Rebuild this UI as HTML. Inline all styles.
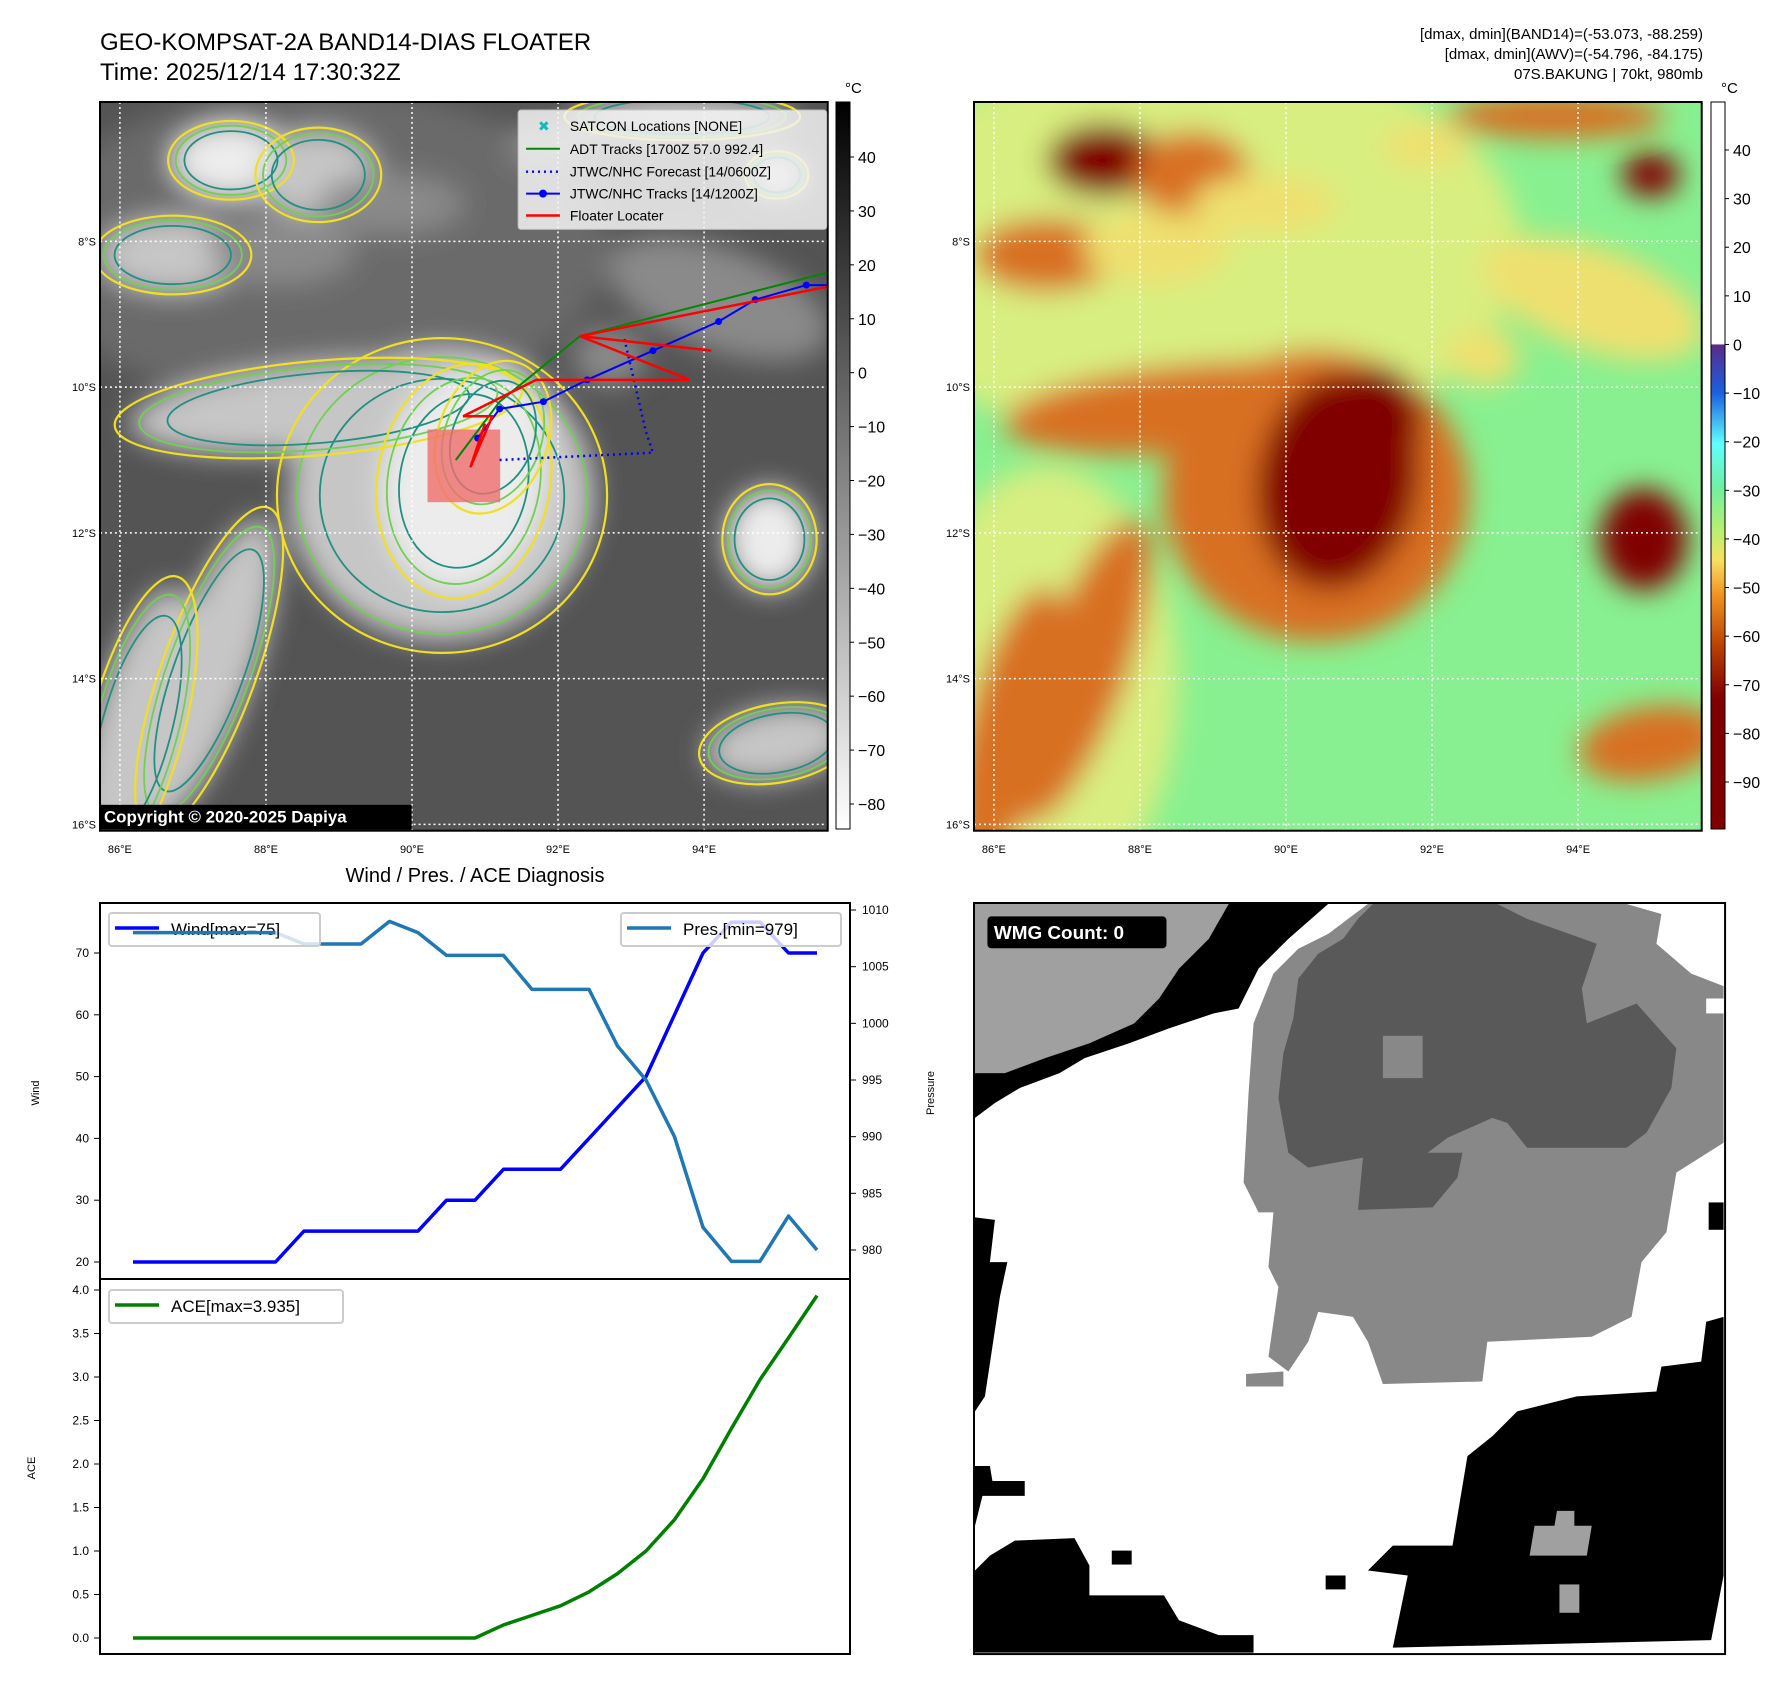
<!DOCTYPE html>
<html><head><meta charset="utf-8"><style>
html,body{margin:0;padding:0;background:#fff;}
svg{display:block;font-family:"Liberation Sans","DejaVu Sans",sans-serif;}
</style></head><body>
<svg id="root" width="1792" height="1690" viewBox="0 0 1792 1690">
<defs>
<filter id="blur" x="-30%" y="-30%" width="160%" height="160%"><feGaussianBlur stdDeviation="14"/></filter>
<clipPath id="clipL"><rect x="0" y="0" width="731" height="732"/></clipPath>
<linearGradient id="cbL" x1="0" y1="0" x2="0" y2="1"><stop offset="0" stop-color="#000"/><stop offset="1" stop-color="#fff"/></linearGradient>
<linearGradient id="cbR" x1="0" y1="0" x2="0" y2="1">
<stop offset="0" stop-color="#fff"/><stop offset="0.333" stop-color="#fff"/>
<stop offset="0.334" stop-color="#5a2a8a"/><stop offset="0.40" stop-color="#1a60e0"/>
<stop offset="0.47" stop-color="#60ffff"/><stop offset="0.53" stop-color="#70f0a0"/>
<stop offset="0.59" stop-color="#b8f070"/><stop offset="0.63" stop-color="#f8e060"/>
<stop offset="0.68" stop-color="#f09020"/><stop offset="0.75" stop-color="#b84000"/>
<stop offset="0.82" stop-color="#800000"/><stop offset="1" stop-color="#800000"/></linearGradient>
</defs>

<!-- Titles -->
<text x="100" y="50" font-size="24">GEO-KOMPSAT-2A BAND14-DIAS FLOATER</text>
<text x="100" y="80" font-size="24">Time: 2025/12/14 17:30:32Z</text>
<g font-size="15" text-anchor="end">
<text x="1703" y="39">[dmax, dmin](BAND14)=(-53.073, -88.259)</text>
<text x="1703" y="59">[dmax, dmin](AWV)=(-54.796, -84.175)</text>
<text x="1703" y="79">07S.BAKUNG | 70kt, 980mb</text>
</g>

<!-- Left map -->
<g id="mapL" transform="translate(100,102) scale(0.9955)">
<g clip-path="url(#clipL)"><rect width="731" height="732" fill="#545454"/><g id="blobsL" filter="url(#blur)"></g><g id="outlL"></g><g id="gridL"></g>
<rect x="329" y="329" width="73" height="73" fill="rgb(240,110,110)" opacity="0.8"/>
<g id="tracks"></g></g>
<rect width="731" height="732" fill="none" stroke="#000" stroke-width="2"/>
<g>
<rect x="420" y="8" width="310" height="120" fill="#f4f4f4" opacity="0.85" rx="3" stroke="#ccc"/>
<g font-size="14">
<text x="440" y="29" fill="#1bb" font-weight="bold">✖</text><text x="472" y="29">SATCON Locations [NONE]</text>
<line x1="428" y1="47" x2="462" y2="47" stroke="#080" stroke-width="2"/><text x="472" y="52">ADT Tracks [1700Z 57.0 992.4]</text>
<line x1="428" y1="70" x2="462" y2="70" stroke="#00f" stroke-width="2.5" stroke-dasharray="2,4"/><text x="472" y="75">JTWC/NHC Forecast [14/0600Z]</text>
<line x1="428" y1="92" x2="462" y2="92" stroke="#00f" stroke-width="2"/><circle cx="445" cy="92" r="4" fill="#00f"/><text x="472" y="97">JTWC/NHC Tracks [14/1200Z]</text>
<line x1="428" y1="114" x2="462" y2="114" stroke="#f00" stroke-width="2.5"/><text x="472" y="119">Floater Locater</text>
</g></g>
<rect x="-1" y="706" width="314" height="25" fill="#000"/>
<text x="4" y="724" font-size="17" font-weight="bold" fill="#fff">Copyright © 2020-2025 Dapiya</text>
</g>

<!-- Right map -->
<g id="mapR" transform="translate(974,102) scale(0.9955)">
<g clip-path="url(#clipL)"><rect width="731" height="732" fill="#88f090"/><g id="blobsR" filter="url(#blur)"></g><g id="gridR"></g></g>
<rect width="731" height="732" fill="none" stroke="#000" stroke-width="2"/>
</g>

<!-- colorbars -->
<g>
<rect x="836" y="102" width="14" height="727" fill="url(#cbL)" stroke="#000"/>
<text x="845" y="93" font-size="15">°C</text>
<g id="cbLticks" font-size="16"></g></g>
<g>
<rect x="1711" y="102" width="14" height="727" fill="url(#cbR)" stroke="#000"/>
<text x="1721" y="93" font-size="15">°C</text>
<g id="cbRticks" font-size="16"></g></g>

<g id="axisLabels" font-size="11"></g>

<!-- chart -->
<text x="475" y="882" font-size="20" text-anchor="middle">Wind / Pres. / ACE Diagnosis</text>
<g id="chart"></g>
<rect x="100" y="903" width="750" height="376" fill="none" stroke="#000" stroke-width="2"/>
<rect x="100" y="1279" width="750" height="375" fill="none" stroke="#000" stroke-width="2"/>
<text transform="translate(39,1093) rotate(-90)" font-size="11" text-anchor="middle">Wind</text>
<text transform="translate(934,1093) rotate(-90)" font-size="11" text-anchor="middle">Pressure</text>
<text transform="translate(35,1468) rotate(-90)" font-size="11" text-anchor="middle">ACE</text>

<!-- WMG panel -->
<g transform="translate(974,903) scale(0.4974)">
<rect x="0" y="0" width="1510" height="1510" fill="#fff"/>
<g transform="translate(-8,-8)">
<polygon fill="#a0a0a0" points="10,10 520,10 480,80 420,140 380,200 330,250 240,290 150,320 70,350 10,350"/>
<polygon fill="#000" points="520,10 720,10 640,80 580,140 540,220 490,230 400,260 320,290 230,320 180,350 100,380 50,410 10,440 10,350 70,350 150,320 240,290 330,250 380,200 420,140 480,80"/>
<polygon fill="#888" points="800,10 1320,10 1390,30 1380,90 1450,150 1515,175 1515,490 1420,550 1400,670 1350,730 1330,840 1250,880 1040,890 1030,970 830,975 800,890 770,840 700,830 680,890 640,950 600,920 620,780 600,740 610,630 580,630 550,570 560,390 570,250 610,150 660,100 720,70 760,40"/>
<polygon fill="#595959" points="810,10 1060,10 1120,40 1260,90 1230,180 1240,250 1340,210 1420,300 1410,380 1360,470 1320,500 1120,500 1080,450 1050,440 960,480 920,510 990,510 980,560 930,620 780,625 790,520 680,540 640,510 620,400 630,310 650,240 660,160 700,110 750,80 780,40"/>
<rect x="830" y="275" width="80" height="85" fill="#888"/>
<polygon fill="#888" points="555,955 630,950 630,980 555,980"/>
<polygon fill="#000" points="1515,840 1480,850 1470,930 1390,940 1380,990 1220,1000 1100,1030 1050,1080 1000,1120 970,1300 850,1300 800,1350 880,1360 850,1505 1490,1490 1515,1360"/>
<polygon fill="#a0a0a0" points="1180,1230 1215,1230 1215,1260 1250,1260 1240,1320 1125,1320 1135,1260 1175,1260"/>
<rect x="1185" y="1378" width="40" height="57" fill="#a0a0a0"/>
<polygon fill="#000" points="10,640 50,645 40,730 75,730 60,800 30,1000 10,1030"/>
<polygon fill="#000" points="10,1350 40,1320 90,1290 210,1285 240,1340 240,1400 390,1400 420,1450 500,1480 570,1480 570,1515 10,1515"/>
<polygon fill="#000" points="10,1140 40,1140 45,1170 110,1170 110,1200 25,1200 10,1260"/>
<rect x="285" y="1310" width="40" height="28" fill="#000"/>
<rect x="715" y="1360" width="40" height="28" fill="#000"/>
<rect x="1485" y="610" width="30" height="55" fill="#000"/>
<rect x="1480" y="200" width="35" height="30" fill="#fff"/>
</g>
<rect x="0" y="0" width="1510" height="1510" fill="none" stroke="#000" stroke-width="4"/>
<rect x="27" y="27" width="360" height="64" rx="8" fill="#000"/>
<text x="40" y="72" font-size="38" font-weight="bold" fill="#fff">WMG Count: 0</text>
</g>
</svg>

<script>
// ===== Chart data =====
const wind = [20,20,20,20,20,20,25,25,25,25,25,30,30,35,35,35,40,45,50,60,70,75,75,70,70];
const pressure = [1008,1008,1008,1008,1008,1008,1007,1007,1007,1009,1008,1006,1006,1006,1003,1003,1003,998,995,990,982,979,979,983,980];
const ace = [0,0,0,0,0,0,0,0,0,0,0,0,0,0.15,0.26,0.37,0.53,0.74,1.0,1.36,1.83,2.41,2.97,3.45,3.935];
const windTicks = [20,30,40,50,60,70];
const presTicks = [980,985,990,995,1000,1005,1010];
const aceTicks = [0,0.5,1.0,1.5,2.0,2.5,3.0,3.5,4.0];
const lonTicks = [86,88,90,92,94];
const latTicks = [8,10,12,14,16];
const cbLTicks = [40,30,20,10,0,-10,-20,-30,-40,-50,-60,-70,-80];
const cbRTicks = [40,30,20,10,0,-10,-20,-30,-40,-50,-60,-70,-80,-90];

const NS='http://www.w3.org/2000/svg';
function mk(tag, attrs, parent){const e=document.createElementNS(NS,tag);for(const k in attrs)e.setAttribute(k,attrs[k]);parent.appendChild(e);return e;}
const xIdx = i => 133 + i*(817-133)/(wind.length-1);
const yWind = v => 1262 - (v-20)*(1262-953)/50;
const yPres = v => 1250 - (v-980)*(1250-910)/30;
const yAce = v => 1638 - v*(1638-1290)/4;
const chart=document.getElementById('chart');

function drawLine(vals, yf, color, w, name){
  const p=mk('polyline',{points:vals.map((v,i)=>xIdx(i)+','+yf(v)).join(' '),fill:'none',stroke:color,'stroke-width':w,'stroke-linejoin':'round'},chart);
  
  
}
drawLine(wind,yWind,'#0000ff',3.5,'wind-line');
drawLine(pressure,yPres,'#1f77b4',3.5,'pressure-line');
drawLine(ace,yAce,'#008000',3.5,'ace-line');

windTicks.forEach(t=>{const y=yWind(t);mk('line',{x1:94,x2:100,y1:y,y2:y,stroke:'#000'},chart);
  const tx=mk('text',{x:89,y:y+4,'font-size':12,'text-anchor':'end'},chart);tx.textContent=t;
  
  });
presTicks.forEach(t=>{const y=yPres(t);mk('line',{x1:850,x2:856,y1:y,y2:y,stroke:'#000'},chart);
  const tx=mk('text',{x:862,y:y+4,'font-size':12},chart);tx.textContent=t;
  
  });
aceTicks.forEach(t=>{const y=yAce(t);mk('line',{x1:94,x2:100,y1:y,y2:y,stroke:'#000'},chart);
  const tx=mk('text',{x:89,y:y+4,'font-size':12,'text-anchor':'end'},chart);tx.textContent=t.toFixed(1);
  
  });

function legend(x,y,w,color,label,name){
  const g=mk('g',{},chart);
  
  
  mk('rect',{x:x,y:y,width:w,height:33,rx:3,fill:'#fff','fill-opacity':0.8,stroke:'#ccc','stroke-width':2},g);
  mk('line',{x1:x+6,x2:x+50,y1:y+15,y2:y+15,stroke:color,'stroke-width':3.5},g);
  const t=mk('text',{x:x+62,y:y+22,'font-size':17},g);t.textContent=label;
}
legend(109,913,211,'#0000ff','Wind[max=75]','wind-legend');
legend(621,913,220,'#1f77b4','Pres.[min=979]','pressure-legend');
legend(109,1290,234,'#008000','ACE[max=3.935]','ace-legend');
drawLine(pressure.slice(0,6),yPres,'#1f77b4',3.5,'pressure-line-overlay');

// ===== Map features (fractions) =====
const blobX=[0.47,0.30,0.50,0.54,0.15,0.05,0.18,0.30,0.10,0.25,0.92,0.85,0.93,0.80,0.93,0.40,0.62,0.70];
const blobY=[0.54,0.42,0.52,0.46,0.78,0.86,0.08,0.10,0.21,0.20,0.60,0.27,0.10,0.02,0.88,0.14,0.06,0.35];
const blobRX=[0.21,0.26,0.11,0.07,0.06,0.06,0.08,0.08,0.10,0.10,0.06,0.16,0.04,0.15,0.10,0.10,0.06,0.05];
const blobRY=[0.20,0.06,0.15,0.10,0.22,0.20,0.05,0.06,0.05,0.05,0.07,0.07,0.03,0.03,0.05,0.04,0.03,0.04];
const blobRot=[0,-5,10,20,20,15,0,0,0,0,0,20,0,0,-10,0,0,0];
const blobLvl=[2,2,3,3,2,2,3,2,2,1,3,1,3,2,2,1,1,1];
const grayPal=['#545454','#8a8a8a','#c6c6c6','#ececec'];
const awvPal=['#88f090','#eee070','#d87020','#800000'];

function drawBlobs(id,pal,outline){
  const g=document.getElementById(id);
  if(id==='blobsR'){mk('ellipse',{cx:0.3*731,cy:0.2*732,rx:0.45*731,ry:0.28*732,fill:'#d8ee80'},g);
    mk('ellipse',{cx:0.1*731,cy:0.8*732,rx:0.18*731,ry:0.3*732,fill:'#d8ee80'},g);}
  else{mk('ellipse',{cx:0.3*731,cy:0.2*732,rx:0.4*731,ry:0.22*732,fill:'#6a6a6a'},g);}
  blobX.forEach((bx,i)=>{
    const e=mk('ellipse',{cx:bx*731,cy:blobY[i]*732,rx:blobRX[i]*731,ry:blobRY[i]*732,fill:pal[blobLvl[i]],
      transform:`rotate(${blobRot[i]} ${bx*731} ${blobY[i]*732})`},g);
    
    
    if(outline && blobLvl[i]>=2){
      const o=document.getElementById('outlL');
      [[1.08,'#f0e020',2.2],[0.95,'#70d050',1.8],[0.8,'#209080',1.8]].forEach(c=>{
        mk('ellipse',{cx:bx*731,cy:blobY[i]*732,rx:blobRX[i]*731*c[0],ry:blobRY[i]*732*c[0],fill:'none',stroke:c[1],'stroke-width':c[2],
          transform:`rotate(${blobRot[i]} ${bx*731} ${blobY[i]*732})`},o);
      });
    }
  });
}
drawBlobs('blobsL',grayPal,true);
drawBlobs('blobsR',awvPal,false);

const S=0.9955;
const lonX = lon => 20 + (lon-86)*73.35;
const latY = lat => 140 + (lat-8)*73.2;
['gridL','gridR'].forEach(id=>{const g=document.getElementById(id);
  lonTicks.forEach(l=>mk('line',{x1:lonX(l),x2:lonX(l),y1:0,y2:732,stroke:'#fff','stroke-width':1.5,'stroke-dasharray':'2,3'},g));
  latTicks.forEach(l=>mk('line',{x1:0,x2:731,y1:latY(l),y2:latY(l),stroke:'#fff','stroke-width':1.5,'stroke-dasharray':'2,3'},g));
});
const al=document.getElementById('axisLabels');
[100,974].forEach(ox=>{
  lonTicks.forEach(l=>{const t=mk('text',{x:ox+lonX(l)*S,y:853,'text-anchor':'middle'},al);t.textContent=l+'°E';
    
    });
  latTicks.forEach(l=>{const t=mk('text',{x:ox-4,y:102+latY(l)*S+4,'text-anchor':'end'},al);t.textContent=l+'°S';
    
    });
});

// tracks (lon/lat)
const jtwcLon=[95.8,95.4,94.7,94.2,93.3,92.4,91.8,91.2,90.9];
const jtwcLat=[8.6,8.6,8.8,9.1,9.5,9.9,10.2,10.3,10.7];
const fcLon=[91.2,93.3,93.2,92.9];
const fcLat=[11.0,10.9,10.6,9.3];
const adtLon=[95.8,92.3,91.2,90.6];
const adtLat=[8.4,9.3,10.2,11.0];
const locLon=[95.8,92.3,94.1,92.3,93.8,91.7,90.7,91.1,90.8,91.0];
const locLat=[8.6,9.3,9.5,9.3,9.9,9.9,10.4,10.4,11.1,10.5];
const tg=document.getElementById('tracks');
function track(lons,lats,attrs,name){
  const p=mk('polyline',Object.assign({points:lons.map((l,i)=>lonX(l)+','+latY(lats[i])).join(' '),fill:'none'},attrs),tg);
  
  
}
track(adtLon,adtLat,{stroke:'#080','stroke-width':2},'adt-track');
track(fcLon,fcLat,{stroke:'#00f','stroke-width':2.5,'stroke-dasharray':'2,4'},'jtwc-forecast');
track(jtwcLon,jtwcLat,{stroke:'#00f','stroke-width':2},'jtwc-track');
jtwcLon.forEach((l,i)=>mk('circle',{cx:lonX(l),cy:latY(jtwcLat[i]),r:3.5,fill:'#00f'},tg));
track(locLon,locLat,{stroke:'#f00','stroke-width':2.5},'floater-track');

// colorbar ticks
const cbl=document.getElementById('cbLticks');
cbLTicks.forEach(t=>{const y=157+(40-t)*(804-157)/120;mk('line',{x1:850,x2:854,y1:y,y2:y,stroke:'#000'},cbl);
  const tx=mk('text',{x:858,y:y+6},cbl);tx.textContent=t<0?'\u2212'+(-t):t;
  
  });
const cbr=document.getElementById('cbRticks');
cbRTicks.forEach(t=>{const y=150+(40-t)*(782-150)/130;mk('line',{x1:1725,x2:1729,y1:y,y2:y,stroke:'#000'},cbr);
  const tx=mk('text',{x:1733,y:y+6},cbr);tx.textContent=t<0?'\u2212'+(-t):t;
  
  });
</script>
</body></html>
